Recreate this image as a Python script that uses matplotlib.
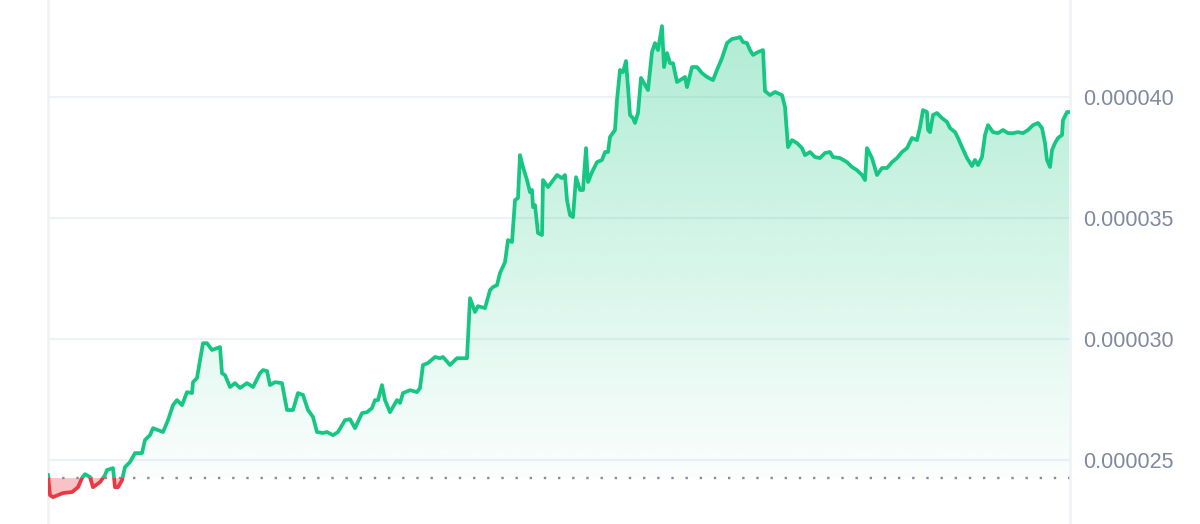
import numpy as np
import matplotlib
matplotlib.use('Agg')
import matplotlib.pyplot as plt
from matplotlib.patches import Rectangle
from matplotlib.path import Path
from matplotlib.ticker import FuncFormatter

# time steps (arbitrary units) and price in millionths
t = [0, 2, 5, 15, 24, 30, 34, 37, 42, 45, 52, 57, 59, 65, 67, 70, 74, 77, 82, 87,
     94, 97, 102, 105, 115, 120, 125, 129, 134, 139, 144, 145, 149, 152, 155, 159, 164, 172, 174, 177,
     182, 187, 192, 199, 205, 212, 215, 219, 222, 227, 234, 239, 245, 250, 255, 260, 265, 269, 275, 279,
     285, 290, 297, 302, 307, 314, 319, 324, 327, 330, 334, 337, 342, 349, 352, 355, 362, 369, 372, 375,
     380, 387, 392, 395, 402, 409, 415, 419, 422, 427, 430, 437, 442, 445, 449, 452, 457, 460, 464, 467,
     470, 472, 475, 479, 482, 484, 485, 487, 490, 494, 495, 500, 509, 514, 517, 519, 522, 525, 528, 532,
     535, 538, 540, 544, 549, 554, 557, 560, 562, 567, 569, 572, 575, 578, 580, 582, 585, 587, 590, 593,
     597, 600, 604, 607, 610, 614, 616, 619, 622, 625, 629, 632, 637, 639, 644, 649, 654, 659, 665, 669,
     674, 679, 684, 689, 692, 695, 699, 702, 705, 710, 715, 717, 722, 727, 734, 737, 740, 744, 749, 754,
     757, 762, 767, 772, 777, 782, 785, 792, 799, 804, 809, 814, 817, 819, 824, 829, 834, 839, 844, 849,
     854, 859, 864, 869, 872, 875, 879, 880, 882, 885, 889, 894, 899, 902, 907, 910, 914, 919, 924, 927,
     930, 934, 937, 940, 945, 950, 955, 960, 965, 970, 975, 980, 985, 990, 994, 997, 999, 1002, 1004, 1007,
     1010, 1014, 1015, 1019, 1021]
price = [24.38, 23.55, 23.47, 23.64, 23.68, 23.88, 24.26, 24.42, 24.30, 23.88, 24.09, 24.38, 24.59, 24.67, 23.88, 23.88, 24.17, 24.71, 24.92, 25.29,
         25.29, 25.83, 26.03, 26.32, 26.16, 26.65, 27.27, 27.48, 27.27, 27.81, 27.77, 28.22, 28.39, 29.13, 29.83, 29.83, 29.55, 29.67, 28.59, 28.51,
         28.02, 28.18, 27.98, 28.18, 28.02, 28.59, 28.72, 28.68, 28.10, 28.22, 28.18, 27.07, 27.07, 27.77, 27.69, 27.07, 26.78, 26.16, 26.12, 26.16,
         26.03, 26.16, 26.65, 26.69, 26.32, 26.94, 26.98, 27.15, 27.48, 27.48, 28.10, 27.48, 26.98, 27.48, 27.36, 27.77, 27.89, 27.81, 27.98, 28.93,
         29.01, 29.26, 29.21, 29.26, 28.93, 29.21, 29.21, 29.21, 31.69, 31.12, 31.36, 31.28, 32.02, 32.15, 32.23, 32.73, 33.18, 34.09, 34.01, 35.74,
         35.83, 37.60, 37.11, 36.57, 36.07, 36.16, 35.45, 35.54, 34.38, 34.30, 36.57, 36.28, 36.78, 36.65, 36.78, 35.74, 35.12, 35.04, 36.69, 36.16,
         36.16, 37.89, 36.49, 36.90, 37.31, 37.40, 37.73, 37.73, 38.35, 38.64, 39.88, 41.12, 41.03, 41.49, 40.41, 39.26, 39.13, 38.93, 39.34, 40.79,
         40.50, 40.29, 41.86, 42.23, 41.94, 42.93, 41.24, 41.82, 41.40, 41.40, 40.62, 40.70, 40.83, 40.41, 41.24, 41.24, 40.99, 40.83, 40.70, 41.12,
         41.61, 42.23, 42.40, 42.44, 42.48, 42.27, 42.23, 41.94, 41.74, 41.86, 41.94, 40.25, 40.08, 40.21, 40.08, 39.59, 37.93, 38.22, 38.10, 37.89,
         37.60, 37.73, 37.52, 37.48, 37.69, 37.73, 37.52, 37.48, 37.31, 37.11, 36.98, 36.78, 36.57, 37.89, 37.48, 36.78, 37.07, 37.07, 37.31, 37.48,
         37.73, 37.89, 38.31, 38.22, 38.76, 39.46, 39.38, 38.64, 38.55, 39.26, 39.34, 39.13, 38.97, 38.72, 38.55, 38.31, 37.93, 37.48, 37.15, 37.40,
         37.19, 37.52, 38.43, 38.84, 38.55, 38.51, 38.64, 38.51, 38.51, 38.55, 38.51, 38.64, 38.84, 38.93, 38.72, 38.10, 37.40, 37.11, 37.81, 38.10,
         38.31, 38.43, 39.05, 39.38, 39.38]
open_price = 24.256
yticks = [25, 30, 35, 40]

t = np.array(t, dtype=float)
p = np.array(price) * 1e-6
base = open_price * 1e-6

GREEN = '#16c784'
RED = '#ea3943'

fig = plt.figure(figsize=(12, 5.24), dpi=100)
ax = fig.add_axes([48 / 1200, 0, 1022 / 1200, 1])
x0, x1 = 0, 1022
y0, y1 = 22.36e-6, 44.01e-6
ax.set_xlim(x0, x1)
ax.set_ylim(y0, y1)

# grid
for v in yticks:
    ax.axhline(v * 1e-6, color='#eff2f5', lw=1.5, zorder=0)

# green gradient fill above the open price
up = ax.fill_between(t, p, base, where=p >= base, interpolate=True,
                     facecolor='none', edgecolor='none')
clip = Path.make_compound_path(*up.get_paths())
grad = np.zeros((256, 1, 4))
rgb = matplotlib.colors.to_rgb(GREEN)
grad[:, 0, :3] = rgb
grad[:, 0, 3] = np.linspace(0.36, 0.02, 256)
im = ax.imshow(grad, extent=[x0, x1, base, y1], aspect='auto',
               origin='upper', zorder=1, interpolation='bilinear')
im.set_clip_path(clip, transform=ax.transData)

# red fill below the open price
ax.fill_between(t, p, base, where=p <= base, interpolate=True,
                facecolor=RED, alpha=0.3, edgecolor='none', zorder=1)

# line, split in colour at the open price
above = Rectangle((x0, base), x1 - x0, 1, transform=ax.transData)
below = Rectangle((x0, base - 1), x1 - x0, 1, transform=ax.transData)
lg, = ax.plot(t, p, color=GREEN, lw=2.7, solid_joinstyle='round', zorder=3)
lg.set_clip_path(above)
lr, = ax.plot(t, p, color=RED, lw=2.7, solid_joinstyle='round', zorder=3)
lr.set_clip_path(below)

# dotted open-price line
ax.axhline(base, color='#858d99', lw=1.7, linestyle=(0, (1, 5)), zorder=2)

# axes styling
for s in ['top', 'bottom']:
    ax.spines[s].set_visible(False)
for s in ['left', 'right']:
    ax.spines[s].set_color('#eff2f5')
    ax.spines[s].set_linewidth(1.8)
ax.set_xticks([])
ax.yaxis.tick_right()
ax.set_yticks([v * 1e-6 for v in yticks])
ax.yaxis.set_major_formatter(FuncFormatter(lambda v, pos: f'{v:.6f}'))
ax.tick_params(axis='y', length=0, pad=9.5, labelsize=15.5, labelcolor='#808a9d')
for lbl in ax.get_yticklabels():
    lbl.set_family('Liberation Sans')

fig.savefig('out.png', dpi=100)
